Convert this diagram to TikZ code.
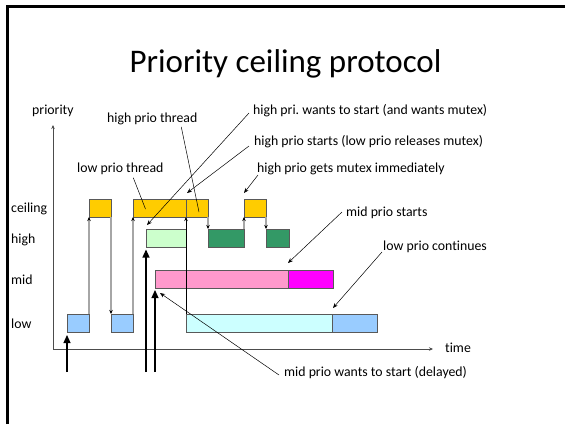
\documentclass[tikz,border=0pt]{standalone}
\usepackage{fontspec}
\setmainfont{Carlito}[Ligatures=NoCommon]
\usetikzlibrary{arrows.meta,calc}
\definecolor{ceilc}{HTML}{FFCC00}
\definecolor{lowc}{HTML}{99CCFF}
\definecolor{waithi}{HTML}{CCFFCC}
\definecolor{runhi}{HTML}{339966}
\definecolor{waitmid}{HTML}{FF99CC}
\definecolor{runmid}{HTML}{FF00FF}
\definecolor{waitlow}{HTML}{CCFFFF}
\frenchspacing
\begin{document}
\begin{tikzpicture}[x=1pt,y=-1pt,
  slot/.style={draw=black!65, line width=0.9pt, inner sep=0pt, outer sep=0pt, minimum height=18pt},
  lab/.style={font=\fontsize{13.8}{16}\selectfont, inner sep=0pt, anchor=mid west},
  note/.style={draw, line width=0.5pt, -{Stealth[length=5pt,width=4pt]}},
  plainnote/.style={draw, line width=0.5pt},
  hop/.style={draw=black!35, line width=1.3pt, -{Stealth[length=4pt,width=3.5pt,color=black]}},
  hopdark/.style={draw=black, line width=0.9pt, -{Stealth[length=4pt,width=3.5pt,color=black]}},
  bigarrow/.style={line width=1.2pt, -{Triangle[length=8pt,width=7pt]}, shorten >=3pt},
  axis/.style={draw=black!70, line width=0.8pt, -{Stealth[length=4pt,width=3.5pt]}}
]
\useasboundingbox (0,0) rectangle (565,424);

% slide frame
\draw[line width=2.5pt] (7.5,424) -- (7.5,6.5) -- (565,6.5);

% title
\node[font=\fontsize{33}{38}\selectfont, anchor=mid] (title) at (285.5,70) {Priority ceiling protocol};

% axes
\coordinate (O) at (53,349);
\coordinate (ytop) at (53,125);
\coordinate (xend) at (433,349);
\draw[axis] (O) -- (ytop);
\draw[axis] (O) -- (xend);
\node[lab] (prio) at (32,112) {priority};
\node[lab] (time) at (445,350) {time};

% priority levels
\node[lab] (lceil) at (11,210) {ceiling};
\node[lab] (lhigh) at (11,241) {high};
\node[lab] (lmid)  at (11,282) {mid};
\node[lab] (llow)  at (11,326) {low};

% low priority thread
\node[slot, fill=lowc, minimum width=22pt] (lo1) at (78,323) {};
\node[slot, fill=lowc, minimum width=22pt] (lo2) at (122,323) {};
\node[slot, fill=waitlow, minimum width=146pt] (low) at (259,323) {};
\node[slot, fill=lowc, minimum width=45pt] (lor) at (354.5,323) {};

% ceiling level
\node[slot, fill=ceilc, minimum width=22pt] (ce1) at (100,208) {};
\node[slot, fill=ceilc, minimum width=53pt] (ce2a) at (159.5,208) {};
\node[slot, fill=ceilc, minimum width=22pt] (ce2b) at (197,208) {};
\node[slot, fill=ceilc, minimum width=22pt] (ce3) at (255,208) {};

% high priority thread
\node[slot, fill=waithi, minimum width=40pt] (hiw) at (166,238) {};
\node[slot, fill=runhi, minimum width=36pt] (hi1) at (226,238) {};
\node[slot, fill=runhi, minimum width=23pt] (hi2) at (277.5,238) {};

% mid priority thread
\node[slot, fill=waitmid, minimum width=133pt] (midw) at (221.5,279) {};
\node[slot, fill=runmid, minimum width=45pt] (midr) at (310.5,279) {};

% level changes
\draw[hop] (lo1.north east) -- (ce1.south west);
\draw[hop] (ce1.south east) -- (lo2.north west);
\draw[hop] (lo2.north east) -- (ce2a.south west);
\draw[hopdark] (low.north west) -- (ce2b.south west);
\draw[hop] (ce2b.south east) -- (hi1.north west);
\draw[hop] (hi1.north east) -- (ce3.south west);
\draw[hop] (ce3.south east) -- (hi2.north west);

% thread arrivals
\coordinate (a1) at (67,372);
\coordinate (a2) at (146,372);
\coordinate (a3) at (155,372);
\draw[bigarrow] (a1) -- (lo1.south west);
\draw[bigarrow, shorten >=2.5pt] (a2) -- (hiw.south west);
\draw[bigarrow, shorten >=2pt] (a3) -- (midw.south west);

% annotations
\node[lab] (lpt) at (77,170) {low prio thread};
\node[lab] (hpt) at (107,120) {high prio thread};
\node[lab] (hpw) at (253,112) {high pri. wants to start (and wants mutex)};
\node[lab] (hps) at (254,143) {high prio starts (low prio releases mutex)};
\node[lab] (hpg) at (257,170) {high prio gets mutex immediately};
\node[lab] (mps) at (346,214) {mid prio starts};
\node[lab] (lpc) at (383,248) {low prio continues};
\node[lab] (mpw) at (284,374) {mid prio wants to start (delayed)};

\draw[plainnote] ([xshift=13pt,yshift=-3pt]lpt.south) -- ([xshift=-14pt,yshift=-1pt]ce2a.center);
\draw[plainnote] ([xshift=29pt,yshift=-2pt]hpt.south) -- ([xshift=2pt,yshift=-4pt]ce2b.center);
\draw[note] ([xshift=-4pt,yshift=-1pt]hpw.mid west) -- ([xshift=1pt,yshift=4pt]hiw.north west);
\draw[note] ([xshift=-5pt,yshift=-3pt]hps.mid west) -- ([xshift=1pt,yshift=6pt]ce2b.north west);
\draw[note] ([xshift=1pt,yshift=-5pt]hpg.mid west) -- ([yshift=6pt]ce3.north west);
\draw[note] ([xshift=-4pt,yshift=2pt]mps.mid west) -- ([yshift=7pt]midr.north west);
\draw[note] ([xshift=-1pt,yshift=-4pt]lpc.mid west) -- ([xshift=1pt,yshift=6pt]lor.north west);
\draw[note] ([xshift=-5pt,yshift=-1pt]mpw.mid west) -- ([xshift=5pt,yshift=-5pt]midw.south west);
\end{tikzpicture}
\end{document}
